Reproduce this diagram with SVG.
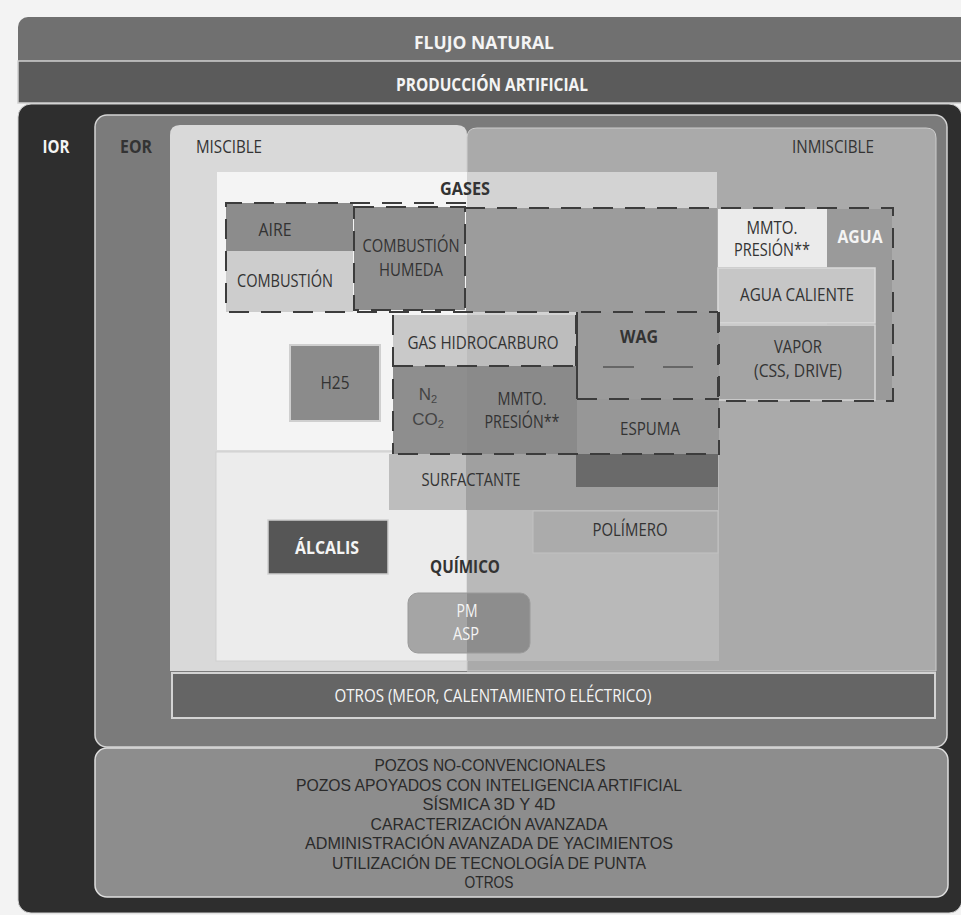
<svg xmlns="http://www.w3.org/2000/svg" width="961" height="915" viewBox="0 0 961 915">
<style>
text{font-family:"Open Sans","Noto Sans","Liberation Sans",sans-serif;font-size:17.5px;fill:#333;text-anchor:middle}
.b{font-weight:700}
.w{fill:#f4f4f4}
.s{font-family:"Liberation Sans",Arial,sans-serif;font-size:16.5px;fill:#2a2a2a}
.n{font-family:"Liberation Sans",Arial,sans-serif;font-size:17px;fill:#444}
.dash{fill:none;stroke:#3c3c3c;stroke-width:2;stroke-dasharray:20 12}
.solid{fill:none;stroke:#3c3c3c;stroke-width:2}
</style>
<defs>
<clipPath id="pmclip"><rect x="408" y="593" width="122" height="60" rx="10"/></clipPath>
</defs>
<rect width="961" height="915" fill="#f3f3f3"/>

<g id="flujo-natural">
<rect x="18" y="17" width="960" height="60" rx="10" fill="#707070"/>
<text class="b w" x="484" y="49" textLength="140" lengthAdjust="spacingAndGlyphs">FLUJO NATURAL</text>
</g>
<g id="produccion-artificial">
<rect x="18" y="61" width="960" height="42" fill="#5b5b5b" stroke="#d0d0d0" stroke-width="1.5"/>
<text class="b w" x="492" y="91" textLength="192" lengthAdjust="spacingAndGlyphs">PRODUCCIÓN ARTIFICIAL</text>
</g>
<g id="ior">
<rect x="18" y="104" width="944" height="809" rx="13" fill="#2e2e2e" stroke="#cfcfcf" stroke-width="1"/>
<text class="b w" x="56" y="153" textLength="27" lengthAdjust="spacingAndGlyphs">IOR</text>
</g>
<g id="eor">
<rect x="95" y="115" width="852" height="632" rx="12" fill="#7b7b7b" stroke="#d4d4d4" stroke-width="1.5"/>
<text class="b" x="136" y="153" fill="#2a2a2a" textLength="32" lengthAdjust="spacingAndGlyphs">EOR</text>
</g>
<g id="miscible">
<path d="M170,671 V135 Q170,125 180,125 H457 Q467,125 467,135 V671 Z" fill="#d9d9d9"/>
<text x="229" y="153" textLength="66" lengthAdjust="spacingAndGlyphs">MISCIBLE</text>
</g>
<g id="inmiscible">
<path d="M467,671 V138 Q467,128 477,128 H926 Q936,128 936,138 V671 Z" fill="#aaaaaa" stroke="#cdcdcd" stroke-width="1"/>
<text x="833" y="153" textLength="82" lengthAdjust="spacingAndGlyphs">INMISCIBLE</text>
</g>

<g id="gases">
<rect x="217" y="172" width="250" height="278" fill="#f4f4f4"/>
<rect x="467" y="172" width="250" height="278" fill="#d3d3d3"/>
<text class="b" x="465" y="195" fill="#222" textLength="50" lengthAdjust="spacingAndGlyphs">GASES</text>
</g>
<g id="quimico">
<rect x="216" y="452" width="251" height="209" fill="#ececec" stroke="#d0d0d0" stroke-width="1"/>
<rect x="467" y="452" width="252" height="209" fill="#b9b9b9"/>
<text class="b" x="465" y="573" fill="#1e1e1e" textLength="70" lengthAdjust="spacingAndGlyphs">QUÍMICO</text>
</g>

<g id="aire">
<rect x="226" y="203" width="127" height="48" fill="#8c8c8c"/>
<text x="275" y="236" textLength="33" lengthAdjust="spacingAndGlyphs">AIRE</text>
</g>
<g id="combustion">
<rect x="226" y="251" width="127" height="61" fill="#cdcdcd"/>
<text x="285" y="287" textLength="96" lengthAdjust="spacingAndGlyphs">COMBUSTIÓN</text>
</g>
<g id="combustion-humeda">
<rect x="354" y="207" width="111" height="103" fill="#8f8f8f"/>
<text x="411" y="252" fill="#555" textLength="97" lengthAdjust="spacingAndGlyphs">COMBUSTIÓN</text>
<text x="411" y="276" fill="#555" textLength="64" lengthAdjust="spacingAndGlyphs">HUMEDA</text>
</g>
<g id="gas-zona">
<rect x="466" y="208" width="251" height="104" fill="#9c9c9c"/>
</g>
<g id="mmto-presion-agua">
<rect x="718" y="209" width="109" height="58" fill="#ebebeb"/>
<text x="772" y="234" textLength="51" lengthAdjust="spacingAndGlyphs">MMTO.</text>
<text x="772" y="256" textLength="76" lengthAdjust="spacingAndGlyphs">PRESIÓN**</text>
</g>
<g id="agua">
<rect x="827" y="209" width="65" height="191" fill="#9a9a9a"/>
<text class="b w" x="860" y="243" textLength="45" lengthAdjust="spacingAndGlyphs">AGUA</text>
</g>
<g id="agua-caliente">
<rect x="718" y="268" width="157" height="55" fill="#c6c6c6" stroke="#dadada" stroke-width="1.5"/>
<text x="797" y="301" textLength="114" lengthAdjust="spacingAndGlyphs">AGUA CALIENTE</text>
</g>
<g id="vapor">
<rect x="718" y="325" width="157" height="75" fill="#a4a4a4" stroke="#d6d6d6" stroke-width="1.5"/>
<text x="798" y="353" fill="#444" textLength="48" lengthAdjust="spacingAndGlyphs">VAPOR</text>
<text x="798" y="377" fill="#444" textLength="88" lengthAdjust="spacingAndGlyphs">(CSS, DRIVE)</text>
</g>

<g id="h25">
<rect x="290" y="345" width="90" height="76" fill="#8b8b8b" stroke="#cfcfcf" stroke-width="2"/>
<text x="335" y="389" fill="#444" textLength="29" lengthAdjust="spacingAndGlyphs">H25</text>
</g>
<g id="gas-hidrocarburo">
<rect x="393" y="315" width="74" height="51" fill="#c9c9c9"/>
<rect x="467" y="315" width="109" height="51" fill="#bdbdbd"/>
<text x="483" y="349" textLength="151" lengthAdjust="spacingAndGlyphs">GAS HIDROCARBURO</text>
</g>
<g id="n2-co2">
<rect x="393" y="366" width="74" height="88" fill="#8e8e8e"/>
<text class="n" x="428" y="400">N<tspan font-size="11" dy="3">2</tspan></text>
<text class="n" x="428" y="425">CO<tspan font-size="11" dy="3">2</tspan></text>
</g>
<g id="mmto-presion-gas">
<rect x="467" y="366" width="110" height="88" fill="#8a8a8a"/>
<text x="522" y="405" fill="#444" textLength="49" lengthAdjust="spacingAndGlyphs">MMTO.</text>
<text x="522" y="428" fill="#444" textLength="75" lengthAdjust="spacingAndGlyphs">PRESIÓN**</text>
</g>
<g id="wag">
<rect x="577" y="312" width="142" height="87" fill="#9b9b9b"/>
<text class="b" x="639" y="343" fill="#444" textLength="38" lengthAdjust="spacingAndGlyphs">WAG</text>
<path d="M603,367 H634 M663,367 H693" stroke="#555" stroke-width="1.5"/>
</g>
<g id="espuma">
<rect x="577" y="399" width="142" height="55" fill="#979797"/>
<text x="650" y="435" textLength="60" lengthAdjust="spacingAndGlyphs">ESPUMA</text>
</g>

<g id="surfactante">
<rect x="389" y="454" width="77" height="56" fill="#bdbdbd"/>
<rect x="466" y="454" width="252" height="56" fill="#a0a0a0"/>
<rect x="576" y="454" width="142" height="33" fill="#6a6a6a"/>
<text x="471" y="486" fill="#3a3a3a" textLength="99" lengthAdjust="spacingAndGlyphs">SURFACTANTE</text>
</g>
<g id="polimero">
<rect x="533" y="511" width="185" height="42" fill="#ababab" stroke="#c2c2c2" stroke-width="1"/>
<text x="630" y="536" fill="#3a3a3a" textLength="75" lengthAdjust="spacingAndGlyphs">POLÍMERO</text>
</g>
<g id="alcalis">
<rect x="268" y="520" width="120" height="54" fill="#565656" stroke="#cfcfcf" stroke-width="1.5"/>
<text class="b w" x="327" y="554" textLength="64" lengthAdjust="spacingAndGlyphs">ÁLCALIS</text>
</g>
<g id="pm-asp">
<g clip-path="url(#pmclip)">
<rect x="408" y="593" width="59" height="60" fill="#a5a5a5"/>
<rect x="467" y="593" width="63" height="60" fill="#8d8d8d"/>
</g>
<rect x="408" y="593" width="122" height="60" rx="10" fill="none" stroke="#9a9a9a" stroke-width="1"/>
<text class="w" x="467" y="617" textLength="21" lengthAdjust="spacingAndGlyphs">PM</text>
<text class="w" x="466" y="640" textLength="26" lengthAdjust="spacingAndGlyphs">ASP</text>
</g>

<g id="otros-meor">
<rect x="172" y="673" width="763" height="45" fill="#656565" stroke="#d3d3d3" stroke-width="2"/>
<text class="w" x="493" y="702" textLength="317" lengthAdjust="spacingAndGlyphs">OTROS (MEOR, CALENTAMIENTO ELÉCTRICO)</text>
</g>

<g id="otros-tecnologias">
<rect x="95" y="748" width="853" height="149" rx="12" fill="#8d8d8d" stroke="#dedede" stroke-width="1.5"/>
<text class="s" x="490" y="771" textLength="231" lengthAdjust="spacingAndGlyphs">POZOS NO-CONVENCIONALES</text>
<text class="s" x="489" y="790.5" textLength="386" lengthAdjust="spacingAndGlyphs">POZOS APOYADOS CON INTELIGENCIA ARTIFICIAL</text>
<text class="s" x="489" y="810" textLength="133" lengthAdjust="spacingAndGlyphs">SÍSMICA 3D Y 4D</text>
<text class="s" x="489" y="829.5" textLength="237" lengthAdjust="spacingAndGlyphs">CARACTERIZACIÓN AVANZADA</text>
<text class="s" x="489" y="849" textLength="368" lengthAdjust="spacingAndGlyphs">ADMINISTRACIÓN AVANZADA DE YACIMIENTOS</text>
<text class="s" x="489" y="868.5" textLength="314" lengthAdjust="spacingAndGlyphs">UTILIZACIÓN DE TECNOLOGÍA DE PUNTA</text>
<text class="s" x="489" y="888" textLength="49" lengthAdjust="spacingAndGlyphs">OTROS</text>
</g>

<g id="connectors">
<path class="dash" d="M466,203 H226 V312 H718"/>
<rect class="dash" x="354" y="207" width="111" height="103"/>
<path class="dash" d="M465,208 H893 V401 H718 V312"/>
<path class="dash" d="M576,366 V315 M393,315 V454 M393,366 H576"/>
<path class="solid" d="M577,312 V399"/>
<path class="dash" d="M577,399 H719 M719,312 V455 M398,454 H718"/>
</g>
</svg>
